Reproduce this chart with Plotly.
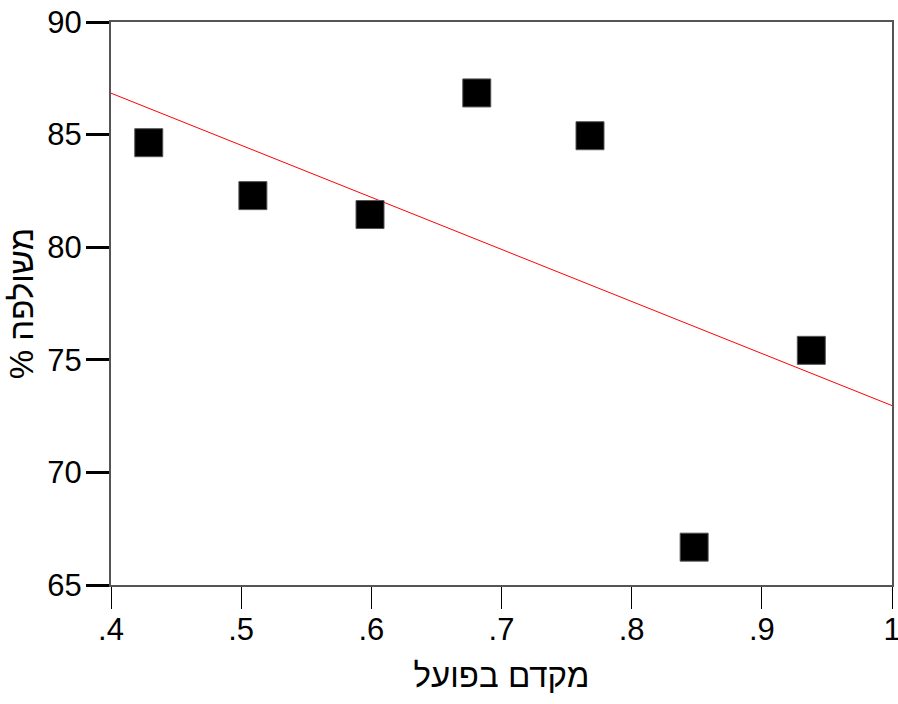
import numpy as np
import plotly.graph_objects as go

# data
coef_x = [0.429, 0.509, 0.599, 0.681, 0.768, 0.848, 0.938]
pct_y = [84.64, 82.29, 81.45, 86.85, 84.95, 66.68, 75.42]
x_tick_vals = [0.4, 0.5, 0.6, 0.7, 0.8, 0.9, 1.0]
x_tick_text = [".4", ".5", ".6", ".7", ".8", ".9", "1"]
y_tick_vals = [65, 70, 75, 80, 85, 90]
x_title = "מקדם בפועל"
y_title = "% משולפה"

slope, intercept = np.polyfit(coef_x, pct_y, 1)
fit_x = np.array([0.397, 1.003])
fit_y = slope * fit_x + intercept

font_family = "Liberation Sans, Arial, sans-serif"

fig = go.Figure()
fig.add_trace(go.Scatter(
    x=fit_x, y=fit_y, mode="lines",
    line=dict(color="#ff0000", width=1),
    cliponaxis=False, hoverinfo="skip", showlegend=False))
fig.add_trace(go.Scatter(
    x=coef_x, y=pct_y, mode="markers",
    marker=dict(symbol="square", size=28, color="black",
                line=dict(color="#555555", width=1)),
    showlegend=False))

fig.update_layout(
    width=898, height=704,
    margin=dict(l=111, r=6, t=22, b=119, autoexpand=False),
    paper_bgcolor="white", plot_bgcolor="white",
    font=dict(family=font_family, color="black"),
    xaxis=dict(
        range=[0.4, 1.0], tickvals=x_tick_vals, ticktext=x_tick_text,
        ticks="outside", ticklen=22, tickwidth=1, tickcolor="black",
        tickfont=dict(size=31, family=font_family),
        ticklabeloverflow="allow", automargin=False, ticklabelstandoff=-6,
        showline=True, linecolor="#555555", linewidth=2, mirror=True,
        showgrid=False, zeroline=False,
        title=dict(text=x_title, font=dict(size=33, family=font_family), standoff=18),
    ),
    yaxis=dict(
        range=[65, 90], tickvals=y_tick_vals,
        ticks="outside", ticklen=23, tickwidth=3, tickcolor="black",
        tickfont=dict(size=31, family=font_family),
        ticklabeloverflow="allow", automargin=False, ticklabelstandoff=-2,
        showline=True, linecolor="#555555", linewidth=2, mirror=True,
        showgrid=False, zeroline=False,
        title=dict(text=y_title, font=dict(size=33, family=font_family), standoff=4),
    ),
)

fig.write_html(
    "out.html",
    config={"displayModeBar": False},
    post_script="document.body.style.margin='0px';document.body.style.overflow='hidden';",
)
